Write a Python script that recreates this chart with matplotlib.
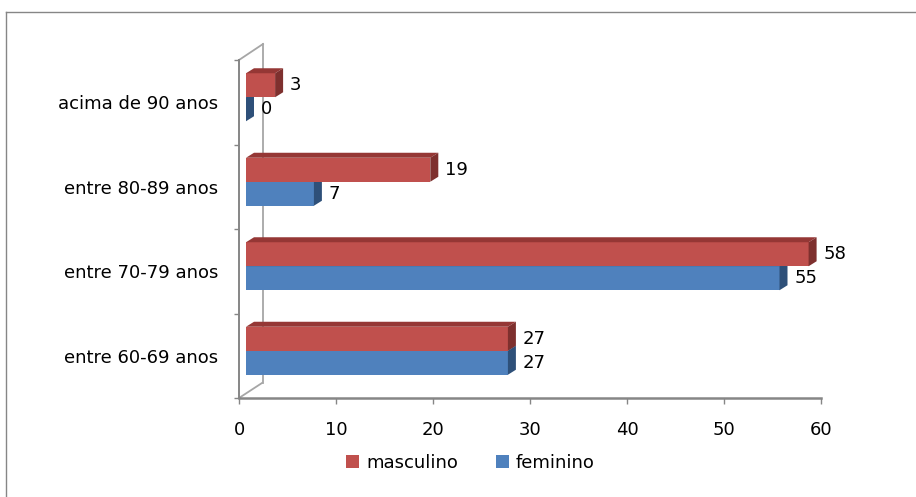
import matplotlib
matplotlib.use('Agg')
import matplotlib.pyplot as plt
from matplotlib import transforms
from matplotlib.patches import Polygon
from matplotlib.lines import Line2D
import numpy as np

categories = ['entre 60-69 anos', 'entre 70-79 anos', 'entre 80-89 anos', 'acima de 90 anos']
masculino = [27, 58, 19, 3]
feminino = [27, 55, 7, 0]
x_ticks = [0, 10, 20, 30, 40, 50, 60]

RED, RED_TOP, RED_SIDE = '#C0504D', '#953735', '#7E302E'
BLUE, BLUE_TOP, BLUE_SIDE = '#4F81BD', '#3A6595', '#2E5079'
AXIS = '#868686'
WALL = '#A6A6A6'

plt.rcParams['font.family'] = 'DejaVu Sans'
plt.rcParams['font.size'] = 13

W, H = 916, 497
fig = plt.figure(figsize=(W / 100, H / 100), dpi=100)
ax = fig.add_axes([239 / W, 1 - 398 / H, (821 - 239) / W, (398 - 60) / H])
ax.set_xlim(0, 60)
ax.set_ylim(-0.5, len(categories) - 0.5)

# 3d look: front faces shifted, depth faces drawn by hand (pixels)
DX, DY = 8, 5
front = ax.transData + transforms.ScaledTranslation(7 / 100, 5 / 100, fig.dpi_scale_trans)
bh = 0.284
y = np.arange(len(categories))


def depth_faces(bars, top_col, side_col, z):
    for r in bars:
        (x0, y0), (x1, y1) = front.transform([(r.get_x(), r.get_y()),
                                              (r.get_x() + r.get_width(), r.get_y() + r.get_height())])
        top = [(x0, y1), (x1, y1), (x1 + DX, y1 + DY), (x0 + DX, y1 + DY)]
        side = [(x1, y0), (x1, y1), (x1 + DX, y1 + DY), (x1 + DX, y0 + DY)]
        for pts, c in ((top, top_col), (side, side_col)):
            ax.add_patch(Polygon(pts, closed=True, facecolor=c, edgecolor='none',
                                 transform=transforms.IdentityTransform(), clip_on=False, zorder=z))


# back wall lines, behind the bars
bb = ax.get_window_extent()
for (xa, ya), (xb, yb) in [((bb.x0, bb.y1), (bb.x0 + 24, bb.y1 + 16)),
                           ((bb.x0 + 24, bb.y1 + 16), (bb.x0 + 24, bb.y0 + 15)),
                           ((bb.x0, bb.y0), (bb.x0 + 23, bb.y0 + 15))]:
    ax.add_artist(Line2D([xa, xb], [ya, yb], color=WALL, lw=1.3, clip_on=False,
                         transform=transforms.IdentityTransform(), zorder=0.5))

fem = ax.barh(y - bh, feminino, height=bh, align='edge', color=BLUE, transform=front, zorder=2, clip_on=False)
depth_faces(fem, BLUE_TOP, BLUE_SIDE, 2)
mas = ax.barh(y, masculino, height=bh, align='edge', color=RED, transform=front, zorder=3, clip_on=False)
depth_faces(mas, RED_TOP, RED_SIDE, 3)

ax.set_xlim(0, 60)
ax.set_ylim(-0.5, len(categories) - 0.5)

for bars, vals in ((fem, feminino), (mas, masculino)):
    for r, v in zip(bars, vals):
        ax.annotate(str(v), xy=(v, r.get_y() + r.get_height() / 2), xycoords=front,
                    xytext=(15, 0), textcoords='offset pixels', ha='left', va='center',
                    fontsize=13, zorder=5)

for s in ('top', 'right'):
    ax.spines[s].set_visible(False)
ax.spines['left'].set_color(AXIS)
ax.spines['left'].set_linewidth(1.4)
ax.spines['bottom'].set_color(AXIS)
ax.spines['bottom'].set_linewidth(1.8)

ax.set_xticks(x_ticks)
ax.tick_params(axis='x', length=4.3, width=1, color=AXIS, pad=12.5, labelsize=13)
ax.set_yticks(y)
ax.set_yticklabels(categories)
ax.set_yticks(np.arange(-0.5, len(categories)), minor=True)
ax.tick_params(axis='y', which='major', length=0, pad=15, labelsize=13)
ax.tick_params(axis='y', which='minor', length=3.6, width=1, color=AXIS)

handles, labels = [mas, fem], ['masculino', 'feminino']
fig.legend(handles, labels, loc='center', ncol=2, frameon=False,
           bbox_to_anchor=(470.5 / W, 1 - 463 / H), bbox_transform=fig.transFigure,
           handlelength=0.7, handleheight=0.7, handletextpad=0.4, columnspacing=2.1,
           fontsize=13)

# outer chart border (runs off the right and bottom edge)
fig.add_artist(Line2D([5.5 / W, 5.5 / W], [0, 1 - 12 / H], color=AXIS, lw=1.0, transform=fig.transFigure))
fig.add_artist(Line2D([5.5 / W, 1], [1 - 12 / H, 1 - 12 / H], color=AXIS, lw=1.0, transform=fig.transFigure))

fig.savefig('out.png', dpi=100)
